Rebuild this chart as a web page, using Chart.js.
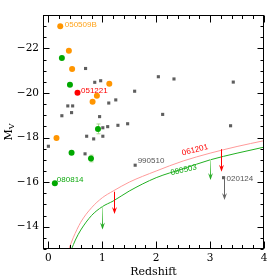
<!DOCTYPE html>
<html><head><meta charset="utf-8">
<script src="https://cdn.jsdelivr.net/npm/chart.js@4"></script>
<style>html,body{margin:0;padding:0;background:#fff}#wrap{width:279px;height:279px}</style>
</head><body><div id="wrap"><canvas id="c" width="279" height="279"></canvas></div>
<script>
// ---- data ----
const xTickVals = [0, 1, 2, 3, 4];
const yTickVals = [-22, -20, -18, -16, -14];

const grayX = [0.69,0.86,0.97,1.60,0.36,0.45,0.43,0.25,0.95,1.12,1.25,1.01,1.10,1.29,1.47,0.71,0.84,1.01,2.04,2.33,3.43,2.12,3.38,0.00,0.68,1.61,3.25];
const grayY = [-21.1,-20.48,-20.55,-20.08,-19.42,-19.42,-19.12,-18.98,-18.94,-19.55,-19.69,-18.44,-18.49,-18.55,-18.62,-18.06,-17.94,-18.06,-20.73,-20.63,-20.49,-19.04,-18.53,-17.61,-17.27,-16.76,-16.2];

const orangeX = [0.22,0.38,0.44,1.13,0.90,0.82,0.15];
const orangeY = [-23.0,-21.9,-21.08,-20.42,-19.88,-19.61,-17.98];

const redX = [0.54];
const redY = [-20.01];

const greenX = [0.25,0.40,0.92,0.43,0.79,0.12];
const greenY = [-21.57,-20.37,-18.39,-17.32,-17.06,-15.95];
const greenErr = [0,0,0.22,0,0.15,0];

const redCurveX = [0.38,0.46,0.6,0.8,1.0,1.2,1.5,2.0,2.5,3.0,3.5,4.0];
const redCurveY = [-13.0,-13.5,-14.2,-14.85,-15.3,-15.6,-16.0,-16.5,-16.95,-17.3,-17.6,-17.86];
const greenCurveX = [0.43,0.5,0.6,0.8,1.0,1.2,1.5,2.0,2.5,3.0,3.5,4.0];
const greenCurveY = [-13.0,-13.4,-13.85,-14.5,-14.9,-15.15,-15.6,-16.2,-16.6,-17.0,-17.3,-17.57];

// upper limits: x, from, to
const limGreenX = [1.0, 3.0];
const limGreenTop = [-14.9, -17.03];
const limGreenBot = [-13.88, -16.1];
const limRedX = [1.21, 3.2];
const limRedTop = [-15.57, -17.48];
const limRedBot = [-14.57, -16.47];
const limGrayX = [3.25];
const limGrayTop = [-16.2];
const limGrayBot = [-15.2];

// burst labels
const labelText = ['050509B','051221','080814','990510','020124','061201','080503'];
const labelX = [0.22, 0.54, 0.12, 1.61, 3.25, 2.72, 2.51];
const labelY = [-23.0, -20.01, -15.95, -16.76, -16.2, -17.44, -16.54];

// ---- styles ----
const C_ORANGE = '#ff9500', C_ORANGE_T = '#ffa31a';
const C_RED = '#ff0000', C_GREEN = '#00a800', C_GRAY = '#5e5e5e';
const labelStyle = [
  {color:C_ORANGE_T, dx:4.5, dy:-1, rot:0, align:'left'},
  {color:C_RED, dx:3.5, dy:-2, rot:0, align:'left'},
  {color:'#11aa11', dx:2, dy:-3, rot:0, align:'left'},
  {color:'#555', dx:2.5, dy:-4, rot:0, align:'left'},
  {color:'#555', dx:3, dy:1.5, rot:0, align:'left'},
  {color:C_RED, dx:0, dy:0, rot:-14, align:'center'},
  {color:'#11aa11', dx:0, dy:0, rot:-13, align:'center'}
];

const zip = (xs, ys) => xs.map((x, i) => ({x, y: ys[i]}));

function arrow(ctx, xs, ys, x, y0, y1, stroke, fillTop) {
  const px = Math.round(xs.getPixelForValue(x)) + 0.5;
  const py0 = ys.getPixelForValue(y0);
  const py1 = ys.getPixelForValue(y1);
  let style = stroke;
  if (fillTop) {
    const g = ctx.createLinearGradient(0, py0, 0, py1);
    g.addColorStop(0, fillTop);
    g.addColorStop(1, stroke);
    style = g;
  }
  ctx.save();
  ctx.strokeStyle = style; ctx.fillStyle = style; ctx.lineWidth = 1;
  ctx.beginPath(); ctx.moveTo(px, py0); ctx.lineTo(px, py1 - 4); ctx.stroke();
  ctx.beginPath(); ctx.moveTo(px - 2.5, py1 - 7); ctx.lineTo(px, py1 - 4.5); ctx.lineTo(px + 2.5, py1 - 7);
  ctx.lineTo(px, py1); ctx.closePath(); ctx.fill();
  ctx.restore();
}

const deco = {
  id: 'deco',
  beforeDatasetsDraw(chart) {
    const {ctx, scales:{x:xs, y:ys}} = chart;
    ctx.save();
    ctx.strokeStyle = '#a8d890'; ctx.lineWidth = 1;
    greenX.forEach((x, i) => {
      if (!greenErr[i]) return;
      const px = Math.round(xs.getPixelForValue(x)) + 0.5;
      const a = ys.getPixelForValue(greenY[i] - greenErr[i]);
      const b = ys.getPixelForValue(greenY[i] + greenErr[i]);
      ctx.beginPath(); ctx.moveTo(px, a); ctx.lineTo(px, b);
      ctx.moveTo(px - 2, a); ctx.lineTo(px + 2, a);
      ctx.moveTo(px - 2, b); ctx.lineTo(px + 2, b); ctx.stroke();
    });
    ctx.restore();
  },
  afterDatasetsDraw(chart) {
    const {ctx, scales:{x:xs, y:ys}} = chart;
    limGreenX.forEach((x, i) => arrow(ctx, xs, ys, x, limGreenTop[i], limGreenBot[i], '#10a010', '#b8ecb0'));
    limRedX.forEach((x, i) => arrow(ctx, xs, ys, x, limRedTop[i], limRedBot[i], '#ff0000', null));
    limGrayX.forEach((x, i) => arrow(ctx, xs, ys, x, limGrayTop[i], limGrayBot[i], '#666', null));
    ctx.save();
    ctx.font = '8px "Liberation Sans", Arial, sans-serif';
    ctx.textBaseline = 'middle';
    labelText.forEach((t, i) => {
      const s = labelStyle[i];
      const px = xs.getPixelForValue(labelX[i]) + s.dx;
      const py = ys.getPixelForValue(labelY[i]) + s.dy;
      ctx.save();
      ctx.translate(px, py); ctx.rotate(s.rot * Math.PI / 180);
      ctx.fillStyle = s.color; ctx.textAlign = s.align;
      ctx.fillText(t, 0, 0);
      ctx.restore();
    });
    ctx.restore();
  },
  afterDraw(chart) {
    const {ctx, chartArea:a, scales:{x:xs, y:ys}} = chart;
    ctx.save();
    ctx.strokeStyle = '#000'; ctx.lineWidth = 1;
    const L = Math.round(a.left) + 0.5, R = Math.round(a.right) - 0.5;
    const T = Math.round(a.top) + 0.5, B = Math.round(a.bottom) - 0.5;
    ctx.strokeRect(L, T, R - L, B - T);
    ctx.beginPath();
    for (let i = 0; i <= 20; i++) {
      const v = i * 0.2;
      const major = i % 5 === 0;
      const len = major ? 7 : 3.5;
      const px = Math.round(xs.getPixelForValue(v)) + 0.5;
      ctx.moveTo(px, B); ctx.lineTo(px, B - len);
      ctx.moveTo(px, T); ctx.lineTo(px, T + len);
    }
    for (let i = 0; i <= 21; i++) {
      const v = -23.5 + i * 0.5;
      const major = yTickVals.includes(v);
      const len = major ? 6 : 3;
      const py = Math.round(ys.getPixelForValue(v)) + 0.5;
      ctx.moveTo(L, py); ctx.lineTo(L + len, py);
      ctx.moveTo(R, py); ctx.lineTo(R - len, py);
    }
    ctx.stroke();
    // axis titles
    ctx.fillStyle = '#000';
    ctx.font = '11px "DejaVu Serif", serif';
    ctx.textAlign = 'center'; ctx.textBaseline = 'middle';
    ctx.fillText('Redshift', (a.left + a.right) / 2, 272);
    ctx.translate(9, (a.top + a.bottom) / 2);
    ctx.rotate(-Math.PI / 2);
    ctx.textAlign = 'left';
    ctx.font = '11px "DejaVu Serif", serif';
    const wM = ctx.measureText('M').width;
    ctx.font = '8px "DejaVu Serif", serif';
    const wV = ctx.measureText('V').width;
    const x0 = -(wM + wV) / 2;
    ctx.font = '11px "DejaVu Serif", serif';
    ctx.fillText('M', x0, 0);
    ctx.font = '8px "DejaVu Serif", serif';
    ctx.fillText('V', x0 + wM, 3);
    ctx.restore();
  }
};

const tickFont = {family: '"DejaVu Serif", serif', size: 10.5};

new Chart(document.getElementById('c').getContext('2d'), {
  type: 'scatter',
  data: { datasets: [
    {data: zip(redCurveX, redCurveY), showLine: true, borderColor: '#ff9a9a', borderWidth: 1, pointRadius: 0, cubicInterpolationMode: 'monotone'},
    {data: zip(greenCurveX, greenCurveY), showLine: true, borderColor: '#22b022', borderWidth: 1, pointRadius: 0, cubicInterpolationMode: 'monotone'},
    {data: zip(grayX, grayY), pointStyle: 'rect', pointRadius: 2.2, backgroundColor: C_GRAY, borderWidth: 0},
    {data: zip(orangeX, orangeY), pointStyle: 'circle', pointRadius: 3, backgroundColor: C_ORANGE, borderWidth: 0},
    {data: zip(redX, redY), pointStyle: 'circle', pointRadius: 3, backgroundColor: C_RED, borderWidth: 0},
    {data: zip(greenX, greenY), pointStyle: 'circle', pointRadius: 3, backgroundColor: C_GREEN, borderWidth: 0}
  ]},
  options: {
    responsive: false, animation: false, events: [],
    plugins: {legend: {display: false}, tooltip: {enabled: false}},
    layout: {padding: {top: 15, right: 15, left: 0, bottom: 0}},
    scales: {
      x: {type: 'linear', min: -0.1, max: 4,
          grid: {display: false, drawTicks: false}, border: {display: false},
          ticks: {font: tickFont, color: '#000', padding: 3, maxRotation: 0, callback: v => String(v)},
          afterBuildTicks: s => { s.ticks = xTickVals.map(v => ({value: v})); },
          afterFit: s => { s.height = 30; }},
      y: {type: 'linear', min: -23.5, max: -13, reverse: true,
          grid: {display: false, drawTicks: false}, border: {display: false},
          ticks: {font: tickFont, color: '#000', padding: 4, callback: v => (v < 0 ? '\u2212' + Math.abs(v) : String(v))},
          afterBuildTicks: s => { s.ticks = yTickVals.map(v => ({value: v})); },
          afterFit: s => { s.width = 43; }}
    }
  },
  plugins: [deco]
});
</script>
</body></html>
